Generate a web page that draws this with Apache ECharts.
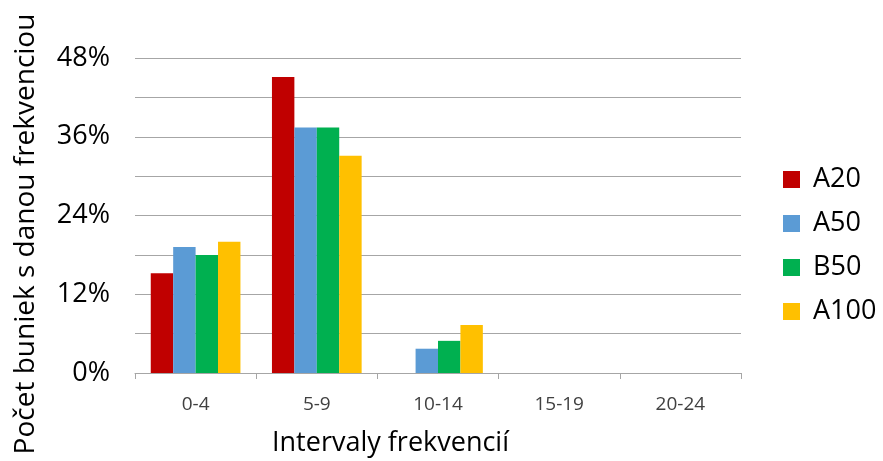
<!DOCTYPE html>
<html>
<head>
<meta charset="utf-8">
<script src="https://cdn.jsdelivr.net/npm/echarts@6/dist/echarts.min.js"></script>
<style>html,body{margin:0;padding:0;background:#fff}#c{width:883px;height:461px}</style>
</head>
<body>
<div id="c"></div>
<script>
const categories = ['0-4', '5-9', '10-14', '15-19', '20-24'];
const seriesNames = ['A20', 'A50', 'B50', 'A100'];
const A20 = [15.2, 45.1, 0, 0, 0];
const A50 = [19.2, 37.4, 3.7, 0, 0];
const B50 = [18.0, 37.4, 4.9, 0, 0];
const A100 = [20.0, 33.1, 7.3, 0, 0];
const colors = ['#C00000', '#5B9BD5', '#00B050', '#FFC000'];
const yLabelEvery = 12;

const FONT = 'Open Sans';
const chart = echarts.init(document.getElementById('c'), null, {renderer: 'canvas'});
const data = [A20, A50, B50, A100];
chart.setOption({
  animation: false,
  textStyle: {fontFamily: FONT},
  color: colors,
  grid: {left: 135, right: 142, top: 58, bottom: 88, containLabel: false},
  legend: {
    orient: 'vertical', left: 778, top: 161,
    itemWidth: 17, itemHeight: 17, itemGap: 17,
    icon: 'rect',
    textStyle: {fontSize: 27, lineHeight: 27, color: '#000', fontFamily: FONT, padding: [0, 0, 0, 8]},
    data: seriesNames
  },
  xAxis: {
    type: 'category', data: categories,
    axisLine: {lineStyle: {color: '#A6A6A6', width: 1}},
    axisTick: {show: true, length: 6, alignWithLabel: false, lineStyle: {color: '#A6A6A6'}},
    axisLabel: {fontSize: 19, color: '#404040', margin: 22, fontFamily: FONT},
  },
  yAxis: {
    type: 'value', min: 0, max: 48, interval: 6,
    axisLine: {show: false}, axisTick: {show: false},
    splitLine: {lineStyle: {color: '#A6A6A6', width: 1}},
    axisLabel: {
      fontSize: 27, color: '#000', margin: 25, fontFamily: FONT,
      formatter: v => (v % yLabelEvery === 0 ? v + '%' : '')
    }
  },
  graphic: [
    {type: 'text', left: 272, top: 430, style: {text: 'Intervaly frekvencií', fontSize: 27, fill: '#000', fontFamily: FONT}},
    {type: 'text', x: 26, y: 234, rotation: Math.PI / 2, style: {text: 'Počet buniek s danou frekvenciou', fontSize: 28, fill: '#000', fontFamily: FONT, align: 'center', verticalAlign: 'middle'}}
  ],
  series: seriesNames.map((n, i) => ({
    name: n, type: 'bar', data: data[i],
    barGap: '0%', barCategoryGap: '26%',
    itemStyle: {color: colors[i]}
  }))
});
</script>
</body>
</html>
